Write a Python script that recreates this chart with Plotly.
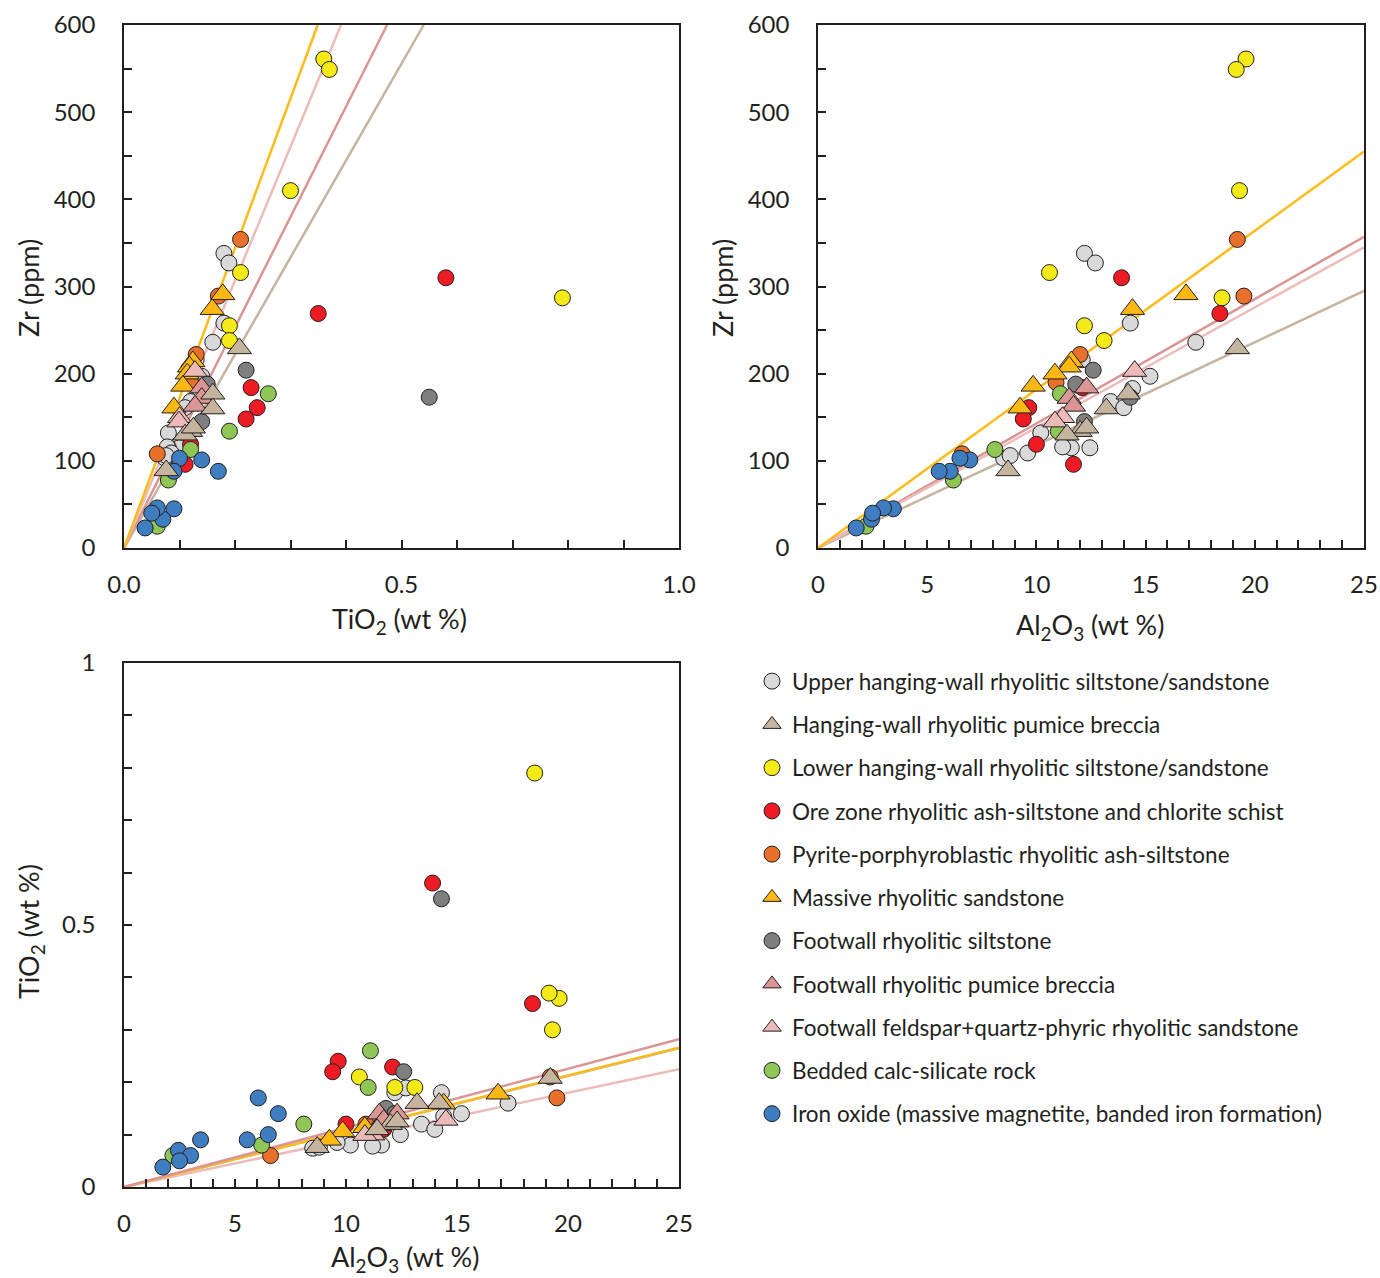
import plotly.graph_objects as go

# ---------------- data (TiO2 wt%, Al2O3 wt%, Zr ppm) ----------------
upper_hw_ti = [0.18, 0.189, 0.18, 0.16, 0.14, 0.135, 0.12, 0.11, 0.08, 0.10, 0.08, 0.078, 0.085, 0.074, 0.076, 0.13]
upper_hw_al = [12.2, 12.7, 14.3, 17.3, 15.2, 14.4, 13.4, 14.0, 10.2, 12.45, 11.6, 11.2, 9.6, 8.5, 8.8, 12.1]
upper_hw_zr = [338, 327, 258, 236, 197, 183, 168, 161, 132, 115, 115, 116, 109, 103, 106, 216]

hw_pumice_ti = [0.208, 0.16, 0.16, 0.12, 0.11, 0.076, 0.125]
hw_pumice_al = [19.2, 14.2, 13.2, 12.0, 11.4, 8.7, 12.3]
hw_pumice_zr = [229, 177, 160, 134, 130, 89, 138]

lower_hw_ti = [0.36, 0.37, 0.30, 0.79, 0.21, 0.19, 0.19]
lower_hw_al = [19.6, 19.15, 19.3, 18.5, 10.6, 12.2, 13.1]
lower_hw_zr = [561, 549, 410, 287, 316, 255, 238]

ore_ti = [0.58, 0.35, 0.229, 0.24, 0.22, 0.12, 0.11]
ore_al = [13.9, 18.4, 12.1, 9.65, 9.4, 10.0, 11.7]
ore_zr = [310, 269, 184, 161, 148, 119, 96]

pyrite_ti = [0.21, 0.17, 0.13, 0.12, 0.06]
pyrite_al = [19.2, 19.5, 12.0, 10.9, 6.6]
pyrite_zr = [354, 289, 222, 190, 108]

massive_ti = [0.178, 0.159, 0.124, 0.118, 0.114, 0.106, 0.09]
massive_al = [16.85, 14.4, 11.6, 11.5, 10.85, 9.85, 9.25]
massive_zr = [291, 274, 214, 208, 200, 186, 161]

fw_silt_ti = [0.55, 0.22, 0.15, 0.14]
fw_silt_al = [14.3, 12.6, 11.8, 12.2]
fw_silt_zr = [173, 204, 188, 145]

fw_pumice_ti = [0.14, 0.14, 0.128]
fw_pumice_al = [12.3, 11.5, 11.7]
fw_pumice_zr = [184, 172, 163]

fw_feldspar_ti = [0.128, 0.10, 0.099]
fw_feldspar_al = [14.5, 11.2, 10.85]
fw_feldspar_zr = [203, 150, 145]

calc_ti = [0.26, 0.19, 0.12, 0.08, 0.06]
calc_al = [11.1, 11.0, 8.1, 6.2, 2.2]
calc_zr = [177, 134, 113, 78, 25]

iron_ti = [0.17, 0.14, 0.10, 0.09, 0.09, 0.07, 0.06, 0.05, 0.038]
iron_al = [6.05, 6.95, 6.5, 5.55, 3.45, 2.45, 3.0, 2.5, 1.75]
iron_zr = [88, 101, 103, 88, 45, 33, 46, 40, 23]

# reference ratio lines (through origin); end points
line_names = ["Massive", "FW feldspar", "FW pumice", "HW pumice"]
line_colors = ["#fcbc18", "#ecbcbb", "#d99694", "#c5b49e"]
# plot 1: TiO2 where each line reaches Zr = 600
line1_end_ti = [0.349, 0.391, 0.474, 0.540]
line1_end_zr = [600, 600, 600, 600]
# plot 2: Zr at Al2O3 = 25
line2_end_al = [25, 25, 25, 25]
line2_end_zr = [455, 345, 357, 295]
# plot 3: TiO2 at Al2O3 = 25
line3_end_al = [25, 25, 25, 25]
line3_end_ti = [0.266, 0.225, 0.282, 0.265]

groups = [
    ("Upper hanging-wall rhyolitic siltstone/sandstone", "circle", "#d9d9d9", upper_hw_ti, upper_hw_al, upper_hw_zr),
    ("Lower hanging-wall rhyolitic siltstone/sandstone", "circle", "#f4ea17", lower_hw_ti, lower_hw_al, lower_hw_zr),
    ("Ore zone rhyolitic ash-siltstone and chlorite schist", "circle", "#ed1c24", ore_ti, ore_al, ore_zr),
    ("Pyrite-porphyroblastic rhyolitic ash-siltstone", "circle", "#e8702a", pyrite_ti, pyrite_al, pyrite_zr),
    ("Footwall rhyolitic siltstone", "circle", "#7f7f7f", fw_silt_ti, fw_silt_al, fw_silt_zr),
    ("Bedded calc-silicate rock", "circle", "#8fc656", calc_ti, calc_al, calc_zr),
    ("Iron oxide (massive magnetite, banded iron formation)", "circle", "#3f7dc1", iron_ti, iron_al, iron_zr),
    ("Massive rhyolitic sandstone", "triangle-up", "#fdb913", massive_ti, massive_al, massive_zr),
    ("Footwall rhyolitic pumice breccia", "triangle-up", "#d99694", fw_pumice_ti, fw_pumice_al, fw_pumice_zr),
    ("Footwall feldspar+quartz-phyric rhyolitic sandstone", "triangle-up", "#ebbab9", fw_feldspar_ti, fw_feldspar_al, fw_feldspar_zr),
    ("Hanging-wall rhyolitic pumice breccia", "triangle-up", "#c5b49e", hw_pumice_ti, hw_pumice_al, hw_pumice_zr),
]
legend_order = [
    "Upper hanging-wall rhyolitic siltstone/sandstone",
    "Hanging-wall rhyolitic pumice breccia",
    "Lower hanging-wall rhyolitic siltstone/sandstone",
    "Ore zone rhyolitic ash-siltstone and chlorite schist",
    "Pyrite-porphyroblastic rhyolitic ash-siltstone",
    "Massive rhyolitic sandstone",
    "Footwall rhyolitic siltstone",
    "Footwall rhyolitic pumice breccia",
    "Footwall feldspar+quartz-phyric rhyolitic sandstone",
    "Bedded calc-silicate rock",
    "Iron oxide (massive magnetite, banded iron formation)",
]

FONT = "Lato"
INK = "#231f20"

fig = go.Figure()

# lines (beneath markers); tan first so it sits under the others
for i in [3, 2, 1, 0]:
    fig.add_trace(go.Scatter(x=[0, line1_end_ti[i]], y=[0, line1_end_zr[i]], mode="lines",
                             line=dict(color=line_colors[i], width=2.5), showlegend=False,
                             hoverinfo="skip", xaxis="x", yaxis="y"))
    fig.add_trace(go.Scatter(x=[0, line2_end_al[i]], y=[0, line2_end_zr[i]], mode="lines",
                             line=dict(color=line_colors[i], width=2.5), showlegend=False,
                             hoverinfo="skip", xaxis="x2", yaxis="y2"))
for i in [3, 1, 0, 2]:
    fig.add_trace(go.Scatter(x=[0, line3_end_al[i]], y=[0, line3_end_ti[i]], mode="lines",
                             line=dict(color=line_colors[i], width=2.5), showlegend=False,
                             hoverinfo="skip", xaxis="x3", yaxis="y3"))

for name, sym, col, ti, al, zr in groups:
    size = 16 if sym == "circle" else 21
    mk = dict(symbol=sym, size=size, color=col, line=dict(color=INK, width=1))
    rank = legend_order.index(name)
    fig.add_trace(go.Scatter(x=ti, y=zr, mode="markers", marker=mk, name=name,
                             legendgroup=name, legendrank=rank, showlegend=True,
                             xaxis="x", yaxis="y"))
    fig.add_trace(go.Scatter(x=al, y=zr, mode="markers", marker=mk, name=name,
                             legendgroup=name, showlegend=False, xaxis="x2", yaxis="y2"))
    fig.add_trace(go.Scatter(x=al, y=ti, mode="markers", marker=mk, name=name,
                             legendgroup=name, showlegend=False, xaxis="x3", yaxis="y3"))

# body margin is removed (see post_script), so the figure fills the window exactly
OFF = 0
W, H = 1380, 1278


def px_x(a, b):
    return [(a - OFF) / W, (b - OFF) / W]


def px_y(top, bottom):
    return [1 - (bottom - OFF) / H, 1 - (top - OFF) / H]


def fx(p):
    return (p - OFF) / W


def fy(p):
    return 1 - (p - OFF) / H


axis_common = dict(showgrid=False, zeroline=False, showline=True, mirror=True,
                   linecolor=INK, linewidth=1.5, ticks="inside", ticklen=8, tickwidth=1.5,
                   tickcolor=INK, tickfont=dict(family=FONT, size=24, color=INK),
                   fixedrange=True, ticklabeloverflow="allow")
minor_common = dict(ticks="inside", ticklen=8, tickcolor=INK, tickwidth=1.5, tick0=0)

fig.update_layout(
    width=W, height=H,
    margin=dict(l=0, r=0, t=0, b=0, autoexpand=False),
    paper_bgcolor="white", plot_bgcolor="white",
    font=dict(family=FONT, color=INK),
    xaxis=dict(domain=px_x(124, 679), anchor="y", range=[0, 1], dtick=0.5, tick0=0,
               tickformat=".1f", ticklabelstandoff=14,
               minor=dict(dtick=0.1, **minor_common), **axis_common),
    yaxis=dict(domain=px_y(25, 548), anchor="x", range=[0, 600], dtick=100, tick0=0,
               ticklabelstandoff=22,
               minor=dict(dtick=50, **minor_common), **axis_common),
    xaxis2=dict(domain=px_x(818, 1364), anchor="y2", range=[0, 25], dtick=5, tick0=0,
                ticklabelstandoff=14,
                minor=dict(dtick=1, **minor_common), **axis_common),
    yaxis2=dict(domain=px_y(25, 548), anchor="x2", range=[0, 600], dtick=100, tick0=0,
                ticklabelstandoff=22,
                minor=dict(dtick=50, **minor_common), **axis_common),
    xaxis3=dict(domain=px_x(124, 679), anchor="y3", range=[0, 25], dtick=5, tick0=0,
                ticklabelstandoff=14,
                minor=dict(dtick=1, **minor_common), **axis_common),
    yaxis3=dict(domain=px_y(663, 1187), anchor="x3", range=[0, 1], dtick=0.5, tick0=0,
                ticklabelstandoff=22,
                minor=dict(dtick=0.1, **minor_common), **axis_common),
    legend=dict(x=fx(752), y=fy(660), xanchor="left", yanchor="top",
                font=dict(family=FONT, size=22.5, color=INK), tracegroupgap=11,
                itemsizing="trace", bgcolor="rgba(0,0,0,0)", traceorder="grouped"),
)

title_font = dict(family=FONT, size=27, color=INK)
annos = [
    dict(text="TiO<sub>2</sub> (wt %)", x=fx(399), y=fy(620)),
    dict(text="Zr (ppm)", x=fx(28), y=fy(288), textangle=-90),
    dict(text="Al<sub>2</sub>O<sub>3</sub> (wt %)", x=fx(1090), y=fy(626)),
    dict(text="Zr (ppm)", x=fx(722), y=fy(288), textangle=-90),
    dict(text="Al<sub>2</sub>O<sub>3</sub> (wt %)", x=fx(405), y=fy(1258)),
    dict(text="TiO<sub>2</sub> (wt %)", x=fx(30), y=fy(932), textangle=-90),
]
for a in annos:
    fig.add_annotation(xref="paper", yref="paper", showarrow=False, xanchor="center",
                       yanchor="middle", font=title_font, **a)

fig.write_html(
    "out.html",
    config={"displayModeBar": False},
    post_script="document.documentElement.style.overflow='hidden';"
                "document.body.style.margin='0';document.body.style.overflow='hidden';",
)
